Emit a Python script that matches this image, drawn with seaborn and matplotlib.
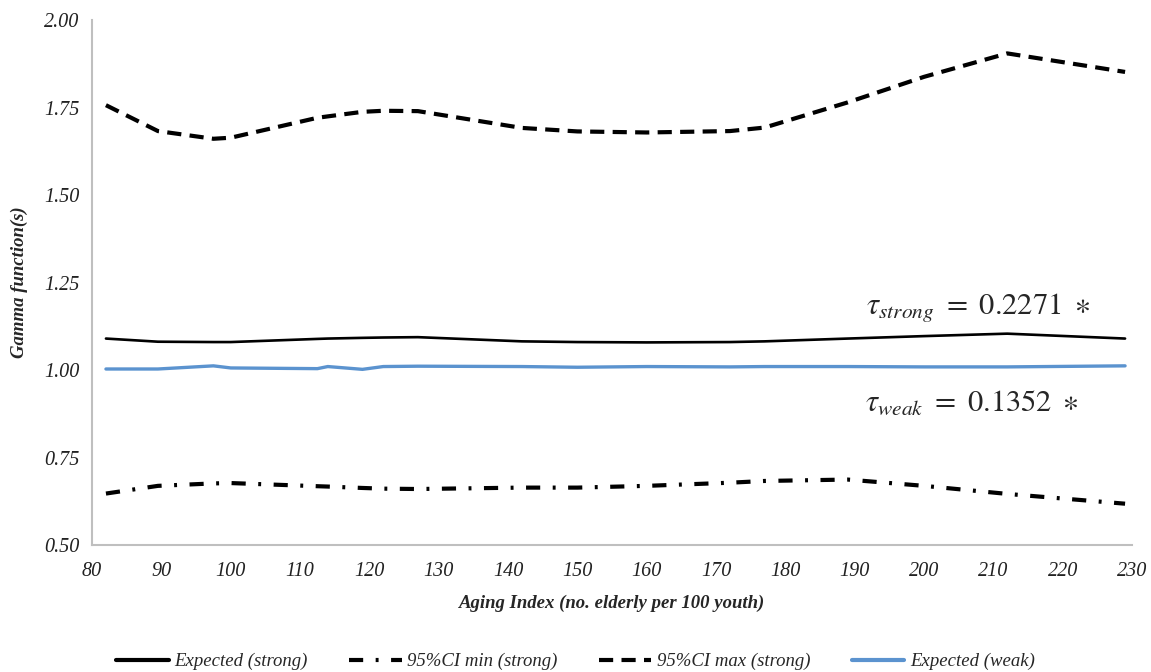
import matplotlib
matplotlib.use("Agg")
import matplotlib.pyplot as plt
import seaborn as sns
import pandas as pd

# Aging index values at which the gamma function was evaluated
aging_index = [82, 89.5, 97.5, 100, 112.5, 114, 119, 122, 127, 142,
               150, 160, 172, 177, 189, 200, 212, 229]

expected_strong = [1.090, 1.081, 1.080, 1.080, 1.089, 1.090, 1.092, 1.093, 1.094, 1.082,
                   1.080, 1.079, 1.080, 1.082, 1.090, 1.097, 1.104, 1.090]
ci_min_strong = [0.647, 0.669, 0.676, 0.677, 0.668, 0.667, 0.663, 0.661, 0.660, 0.664,
                 0.664, 0.669, 0.678, 0.683, 0.687, 0.669, 0.646, 0.618]
ci_max_strong = [1.757, 1.683, 1.661, 1.664, 1.721, 1.725, 1.738, 1.741, 1.740, 1.692,
                 1.682, 1.679, 1.683, 1.693, 1.765, 1.838, 1.905, 1.852]
expected_weak = [1.003, 1.003, 1.012, 1.006, 1.004, 1.010, 1.002, 1.010, 1.011, 1.010,
                 1.008, 1.010, 1.009, 1.010, 1.010, 1.009, 1.009, 1.012]

x_ticks = list(range(80, 231, 10))
y_ticks = [0.50, 0.75, 1.00, 1.25, 1.50, 1.75, 2.00]

tau_strong_label = r"$\tau_{strong}\ =\ 0.2271\ \ast$"
tau_weak_label = r"$\tau_{weak}\ =\ 0.1352\ \ast$"

df = pd.DataFrame({
    "aging": aging_index,
    "Expected (strong)": expected_strong,
    "95%CI min (strong)": ci_min_strong,
    "95%CI max (strong)": ci_max_strong,
    "Expected (weak)": expected_weak,
})

sns.set_style("white")
plt.rcParams["font.family"] = ["Liberation Serif", "DejaVu Serif"]
plt.rcParams["mathtext.fontset"] = "stix"

fig = plt.figure(figsize=(11.51, 6.72), dpi=100)
ax = fig.add_axes([0.080, 0.189, 0.9035, 0.781])

styles = {
    "Expected (strong)": dict(color="black", lw=1.9, linestyle="-"),
    "95%CI min (strong)": dict(color="black", lw=3.0, linestyle=(0, (3.4, 3.0, 0.7, 3.0))),
    "95%CI max (strong)": dict(color="black", lw=3.0, linestyle=(0, (3.4, 2.0))),
    "Expected (weak)": dict(color="#5B93CF", lw=2.4, linestyle="-"),
}

for name, kw in styles.items():
    sns.lineplot(data=df, x="aging", y=name, ax=ax, label=name, **kw)

ax.set_xlim(80, 230)
ax.set_ylim(0.5, 2.0)
ax.set_xticks(x_ticks)
ax.set_yticks(y_ticks)
ax.set_xticklabels([str(v) for v in x_ticks], fontstyle="italic", fontsize=14.5)
ax.set_yticklabels([f"{v:.2f}" for v in y_ticks], fontstyle="italic", fontsize=14.5)
ax.tick_params(axis="both", length=0, colors="#222222")
ax.tick_params(axis="y", pad=9)
ax.tick_params(axis="x", pad=12)

for side in ("top", "right"):
    ax.spines[side].set_visible(False)
for side in ("left", "bottom"):
    ax.spines[side].set_color("#BFBFBF")
    ax.spines[side].set_linewidth(1.5)

ax.set_xlabel("Aging Index (no. elderly per 100 youth)", fontstyle="italic",
              fontweight="bold", fontsize=13.5, labelpad=10)
ax.set_ylabel("Gamma function(s)", fontstyle="italic", fontweight="bold", fontsize=13.5)
ax.yaxis.set_label_coords(-0.062, 0.5)

ax.text(207.8, 1.180, tau_strong_label, fontsize=22, ha="center", va="center")
ax.text(206.9, 0.906, tau_weak_label, fontsize=22, ha="center", va="center")

handles, labels = ax.get_legend_handles_labels()
leg = ax.legend(handles, labels, loc="center", bbox_to_anchor=(0.465, -0.222), ncol=4,
                frameon=False, handlelength=2.8, columnspacing=2.2, handletextpad=0.3,
                prop={"style": "italic", "size": 13.5})
for line in leg.get_lines():
    line.set_linewidth(3.0)

fig.savefig("out.png", dpi=100, facecolor="white")
